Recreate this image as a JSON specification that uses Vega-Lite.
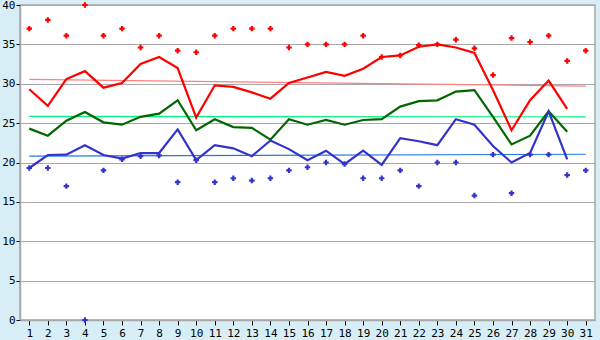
{
  "$schema": "https://vega.github.io/schema/vega-lite/v6.json",
  "width": 575,
  "height": 315,
  "autosize": {"type": "none"},
  "padding": {"left": 20, "top": 5, "right": 5, "bottom": 20},
  "background": "#D8EEF6",
  "config": {
    "view": {"fill": "white", "stroke": "#A8A8A8", "strokeWidth": 1.5},
    "axis": {"labelFont": "DejaVu Sans Mono", "labelFontSize": 11, "labelColor": "#000000", "tickColor": "#000000", "domainColor": "#A8A8A8", "domainWidth": 1.5}
  },
  "datasets": {
    "days": [
      {"day": 1, "max": 29.3, "avg": 24.3, "min": 19.3, "recmax": 37.0, "recmin": 19.3},
      {"day": 2, "max": 27.2, "avg": 23.4, "min": 20.95, "recmax": 38.1, "recmin": 19.3},
      {"day": 3, "max": 30.6, "avg": 25.3, "min": 21.0, "recmax": 36.1, "recmin": 17.0},
      {"day": 4, "max": 31.6, "avg": 26.4, "min": 22.2, "recmax": 40.0, "recmin": 0},
      {"day": 5, "max": 29.5, "avg": 25.1, "min": 20.95, "recmax": 36.1, "recmin": 19.0},
      {"day": 6, "max": 30.1, "avg": 24.8, "min": 20.5, "recmax": 37.0, "recmin": 20.4},
      {"day": 7, "max": 32.5, "avg": 25.8, "min": 21.2, "recmax": 34.6, "recmin": 20.8},
      {"day": 8, "max": 33.4, "avg": 26.2, "min": 21.2, "recmax": 36.1, "recmin": 20.9},
      {"day": 9, "max": 32.0, "avg": 27.9, "min": 24.2, "recmax": 34.2, "recmin": 17.5},
      {"day": 10, "max": 25.7, "avg": 24.1, "min": 20.3, "recmax": 34.0, "recmin": 20.3},
      {"day": 11, "max": 29.8, "avg": 25.5, "min": 22.2, "recmax": 36.1, "recmin": 17.5},
      {"day": 12, "max": 29.6, "avg": 24.5, "min": 21.8, "recmax": 37.0, "recmin": 18.0},
      {"day": 13, "max": 28.9, "avg": 24.4, "min": 20.8, "recmax": 37.0, "recmin": 17.7},
      {"day": 14, "max": 28.1, "avg": 22.9, "min": 22.8, "recmax": 37.0, "recmin": 18.0},
      {"day": 15, "max": 30.1, "avg": 25.5, "min": 21.7, "recmax": 34.6, "recmin": 19.0},
      {"day": 16, "max": 30.8, "avg": 24.8, "min": 20.3, "recmax": 35.0, "recmin": 19.4},
      {"day": 17, "max": 31.5, "avg": 25.4, "min": 21.5, "recmax": 35.0, "recmin": 20.0},
      {"day": 18, "max": 31.0, "avg": 24.8, "min": 19.8, "recmax": 35.0, "recmin": 19.8},
      {"day": 19, "max": 31.9, "avg": 25.4, "min": 21.5, "recmax": 36.1, "recmin": 18.0},
      {"day": 20, "max": 33.4, "avg": 25.5, "min": 19.7, "recmax": 33.4, "recmin": 18.0},
      {"day": 21, "max": 33.6, "avg": 27.1, "min": 23.1, "recmax": 33.6, "recmin": 19.0},
      {"day": 22, "max": 34.7, "avg": 27.8, "min": 22.7, "recmax": 34.9, "recmin": 17.0},
      {"day": 23, "max": 35.0, "avg": 27.9, "min": 22.2, "recmax": 35.0, "recmin": 20.0},
      {"day": 24, "max": 34.6, "avg": 29.0, "min": 25.5, "recmax": 35.6, "recmin": 20.0},
      {"day": 25, "max": 33.9, "avg": 29.2, "min": 24.8, "recmax": 34.5, "recmin": 15.8},
      {"day": 26, "max": 29.2, "avg": 25.8, "min": 22.1, "recmax": 31.1, "recmin": 21.0},
      {"day": 27, "max": 24.1, "avg": 22.3, "min": 20.0, "recmax": 35.8, "recmin": 16.1},
      {"day": 28, "max": 27.9, "avg": 23.4, "min": 21.2, "recmax": 35.3, "recmin": 21.0},
      {"day": 29, "max": 30.4, "avg": 26.5, "min": 26.5, "recmax": 36.1, "recmin": 21.0},
      {"day": 30, "max": 26.8, "avg": 23.9, "min": 20.4, "recmax": 32.9, "recmin": 18.4},
      {"day": 31, "max": null, "avg": null, "min": null, "recmax": 34.2, "recmin": 19.0}
    ],
    "trend": [
      {"series": "max", "day": 1, "value": 30.56},
      {"series": "max", "day": 31, "value": 29.7},
      {"series": "avg", "day": 1, "value": 25.85},
      {"series": "avg", "day": 31, "value": 25.8},
      {"series": "min", "day": 1, "value": 20.8},
      {"series": "min", "day": 31, "value": 21.05}
    ]
  },
  "encoding": {
    "x": {
      "field": "day", "type": "quantitative",
      "scale": {"domain": [0.5, 31.5], "nice": false, "zero": false},
      "axis": {"title": null, "values": [1,2,3,4,5,6,7,8,9,10,11,12,13,14,15,16,17,18,19,20,21,22,23,24,25,26,27,28,29,30,31], "grid": false, "tickSize": 5, "labelPadding": 2, "labelFlush": false, "labelOverlap": false}
    },
    "y": {
      "field": "value", "type": "quantitative",
      "scale": {"domain": [0, 40], "nice": false},
      "axis": {"title": null, "values": [0,5,10,15,20,25,30,35,40], "grid": true, "gridColor": "#A8A8A8", "gridWidth": 1, "gridOpacity": 1, "tickSize": 4, "labelPadding": 1, "labelFlush": false, "labelOverlap": false}
    }
  },
  "layer": [
    {
      "data": {"name": "trend"},
      "mark": {"type": "line", "strokeWidth": 1.2, "interpolate": "linear"},
      "encoding": {
        "color": {"field": "series", "type": "nominal", "scale": {"domain": ["max", "avg", "min"], "range": ["#FF8080", "#00F080", "#1E78E6"]}, "legend": null},
        "detail": {"field": "series"}
      }
    },
    {
      "data": {"name": "days"},
      "transform": [{"fold": ["max", "avg", "min"], "as": ["series", "value"]}],
      "mark": {"type": "line", "strokeWidth": 2.2},
      "encoding": {
        "stroke": {"field": "series", "type": "nominal", "scale": {"domain": ["max", "avg", "min"], "range": ["#FF0000", "#006600", "#3333CC"]}, "legend": null}
      }
    },
    {
      "data": {"name": "days"},
      "transform": [{"fold": ["recmax", "recmin"], "as": ["rec", "value"]}],
      "mark": {"type": "point", "shape": "cross", "filled": true, "size": 30, "opacity": 1},
      "encoding": {
        "fill": {"field": "rec", "type": "nominal", "scale": {"domain": ["recmax", "recmin"], "range": ["#FF0000", "#3333CC"]}, "legend": null}
      }
    }
  ],
  "resolve": {"scale": {"color": "independent"}}
}
